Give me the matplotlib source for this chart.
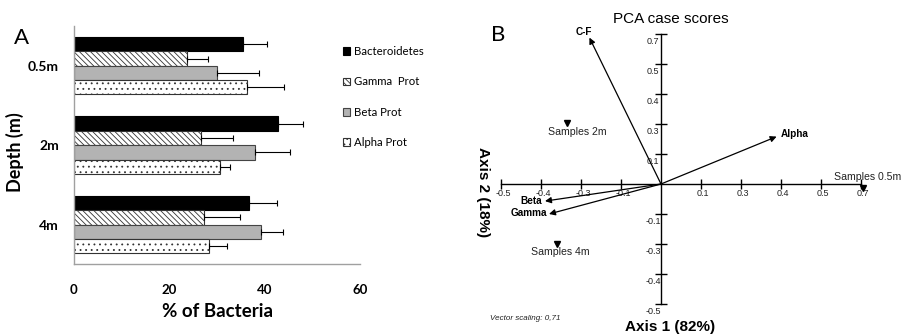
import matplotlib
matplotlib.use("Agg")
import matplotlib.pyplot as plt
from matplotlib.patches import Patch
import numpy as np

# ---------------- Panel A data ----------------
depths = ["0.5m", "2m", "4m"]
groups = ["Bacteroidetes", "Gamma  Prot", "Beta Prot", "Alpha Prot"]
bacteroidetes = [35.4, 42.9, 36.8]
bacteroidetes_err = [5.0, 5.1, 5.7]
gamma = [23.8, 26.7, 27.3]
gamma_err = [4.3, 6.6, 7.5]
beta = [30.0, 38.0, 39.2]
beta_err = [8.8, 7.3, 4.7]
alpha = [36.3, 30.7, 28.4]
alpha_err = [7.8, 2.0, 3.6]
x_ticks_a = [0, 20, 40, 60]

# ---------------- Panel B data (axis units = tick steps) ----------------
pca_x_positions = [-4, -3, -2, -1, 1, 2, 3, 4, 5]
pca_x_labels = ["-0.5", "-0.4", "-0.3", "-0.1", "0.1", "0.3", "0.4", "0.5", "0.7"]
pca_y_positions = [5, 4, 3, 2, 1, -1, -2, -3, -4]
pca_y_labels = ["0.7", "0.5", "0.4", "0.3", "0.1", "-0.1", "-0.3", "-0.4", "-0.5"]
vector_names = ["C-F", "Alpha", "Beta", "Gamma"]
vector_x = [-1.79, 2.89, -2.90, -2.80]
vector_y = [4.88, 1.58, -0.57, -1.00]
sample_names = ["Samples 2m", "Samples 4m", "Samples 0.5m"]
sample_x = [-2.35, -2.61, 5.04]
sample_y = [2.04, -2.00, -0.12]

W, H = 902, 336
fig = plt.figure(figsize=(W / 100, H / 100), dpi=100)

# ================= Panel A =================
fontA = ["Lato", "DejaVu Sans"]
axA = fig.add_axes([74 / W, 1 - 264.3 / H, (360 - 74) / W, (264.3 - 26) / H])
pos = np.arange(len(depths))
bh = 0.181
offsets = [-1.5 * bh, -0.5 * bh, 0.5 * bh, 1.5 * bh]
series = [bacteroidetes, gamma, beta, alpha]
errs = [bacteroidetes_err, gamma_err, beta_err, alpha_err]
faces = ["black", "white", "#b3b3b3", "white"]
hatches = [None, "\\\\\\\\\\\\", None, "..."]
edges = ["black", "#333333", "#444444", "#333333"]
plt.rcParams["hatch.linewidth"] = 0.6
for vals, er, fc, ht, ec, off in zip(series, errs, faces, hatches, edges, offsets):
    axA.barh(pos + off, vals, height=bh, color=fc, hatch=ht, edgecolor=ec,
             linewidth=0.8)
    axA.errorbar(vals, pos + off, xerr=[np.zeros(len(vals)), er], fmt="none",
                 ecolor="black", elinewidth=0.8, capsize=2.5, capthick=0.8)
axA.set_ylim(2.5, -0.5)
axA.set_xlim(0, 60)
axA.set_xticks(x_ticks_a)
axA.set_xticklabels([str(v) for v in x_ticks_a], fontsize=9.5, fontweight="bold",
                    family=fontA)
axA.set_yticks(pos)
axA.set_yticklabels(depths, fontsize=10, fontweight="bold", family=fontA)
axA.tick_params(axis="both", length=0)
axA.tick_params(axis="x", pad=14)
axA.tick_params(axis="y", pad=11)
for s in ["top", "right"]:
    axA.spines[s].set_visible(False)
for s in ["left", "bottom"]:
    axA.spines[s].set_color("#a0a0a0")
    axA.spines[s].set_linewidth(1.0)
axA.set_xlabel("% of Bacteria", fontsize=13.5, fontweight="bold", family=fontA,
               labelpad=5)
axA.set_ylabel("Depth (m)", fontsize=13, fontweight="bold", family=fontA)
axA.yaxis.set_label_coords(-50 / 286, 0.47)
fig.text(21.7 / W, 1 - 37.7 / H, "A", fontsize=16, ha="center", va="center",
         family=fontA)

handles = [Patch(facecolor=fc, edgecolor=ec, hatch=ht, linewidth=0.8)
           for fc, ht, ec in zip(faces, hatches, edges)]
fig.legend(handles, groups, loc="upper left", bbox_to_anchor=(343 / W, 1 - 46 / H),
           frameon=False, prop={"family": fontA, "size": 8.2},
           handlelength=0.65, handleheight=0.65, handletextpad=0.3,
           labelspacing=1.7, borderpad=0, borderaxespad=0)

# ================= Panel B =================
fontB = ["Liberation Sans", "DejaVu Sans"]
ox, oy, sx, sy = 661, 184, 40.0, 30.0
left_px = 470
axB = fig.add_axes([left_px / W, 0, (W - left_px) / W, 1])
axB.set_xlim((left_px - ox) / sx, (W - ox) / sx)
axB.set_ylim((oy - H) / sy, oy / sy)
axB.axis("off")

axB.plot([min(pca_x_positions), max(pca_x_positions)], [0, 0], color="black", lw=1.0)
axB.plot([0, 0], [min(pca_y_positions), max(pca_y_positions)], color="black", lw=1.0)
axB.plot(pca_x_positions, [0] * len(pca_x_positions), ls="none", marker="|",
         markersize=7.5, color="black", mew=1.0)
axB.plot([0] * len(pca_y_positions), pca_y_positions, ls="none", marker="_",
         markersize=8.5, color="black", mew=1.0)
for xp, lab in zip(pca_x_positions, pca_x_labels):
    axB.annotate(lab, (xp, 0), xytext=(2, -10), textcoords="offset pixels",
                 ha="center", va="center", fontsize=6.5, family=fontB, color="#222222")
for yp, lab in zip(pca_y_positions, pca_y_labels):
    axB.annotate(lab, (0, yp), xytext=(-8, -7), textcoords="offset pixels",
                 ha="center", va="center", fontsize=6.5, family=fontB, color="#222222")

for name, vx, vy in zip(vector_names, vector_x, vector_y):
    axB.annotate("", xy=(vx, vy), xytext=(0, 0),
                 arrowprops=dict(arrowstyle="-|>", color="black", lw=0.9,
                                 mutation_scale=9, shrinkA=0, shrinkB=0))
lab_off = {"C-F": (-6, 6, "center"), "Alpha": (4, 3, "left"),
           "Beta": (-3, 0, "right"), "Gamma": (-2, 1, "right")}
for name, vx, vy in zip(vector_names, vector_x, vector_y):
    dx, dy, ha = lab_off[name]
    axB.annotate(name, (vx, vy), xytext=(dx, dy), textcoords="offset pixels",
                 ha=ha, va="center", fontsize=7.2, fontweight="bold", family=fontB)

axB.plot(sample_x, sample_y, ls="none", marker="v", markersize=4, color="black")
s_off = {"Samples 2m": (10, -9, "center"), "Samples 4m": (4, -8, "center"),
         "Samples 0.5m": (-29, 11, "left")}
for name, sxv, syv in zip(sample_names, sample_x, sample_y):
    dx, dy, ha = s_off[name]
    axB.annotate(name, (sxv, syv), xytext=(dx, dy), textcoords="offset pixels",
                 ha=ha, va="center", fontsize=7.6, family=fontB, color="#222222",
                 annotation_clip=False)

def px(x, y):
    return ((x - ox) / sx, (oy - y) / sy)

axB.text(*px(671, 19), "PCA case scores", ha="center", va="center", fontsize=11,
         family=fontB)
axB.text(*px(498, 35), "B", ha="center", va="center", fontsize=16, family=fontA)
axB.text(*px(483, 192), "Axis 2 (18%)", ha="center", va="center", fontsize=11,
         fontweight="bold", rotation=270, family=fontB)
axB.text(*px(670, 326.5), "Axis 1 (82%)", ha="center", va="center", fontsize=11,
         fontweight="bold", family=fontB)
axB.text(*px(525, 318), "Vector scaling: 0,71", ha="center", va="center",
         fontsize=5.8, style="italic", family=fontB, color="#222222")

fig.savefig("out.png", dpi=100)
